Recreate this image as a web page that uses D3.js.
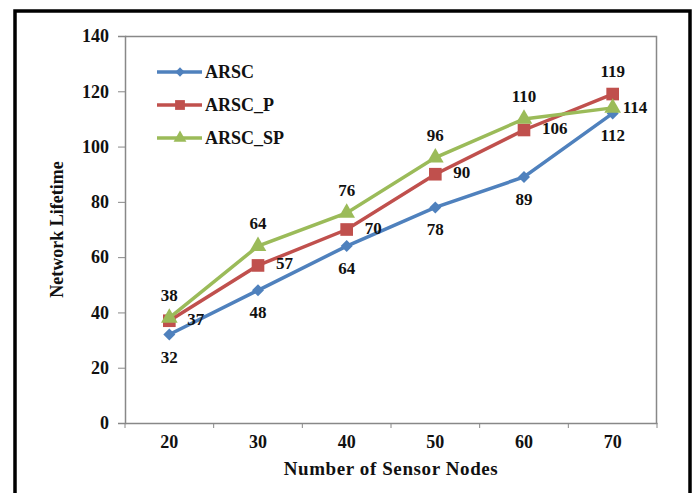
<!DOCTYPE html>
<html>
<head>
<meta charset="utf-8">
<script src="https://cdn.jsdelivr.net/npm/d3@7"></script>
<style>
  body { margin: 0; background: #fff; }
  text { font-family: "Liberation Serif", "Times New Roman", serif; font-weight: bold; fill: #111; }
</style>
</head>
<body>
<div class="canvas"></div>
<script>
// data
const nodes = [20, 30, 40, 50, 60, 70];
const arsc = [32, 48, 64, 78, 89, 112];
const arscP = [37, 57, 70, 90, 106, 119];
const arscSP = [38, 64, 76, 96, 110, 114];
const yTicks = [0, 20, 40, 60, 80, 100, 120, 140];

// where each value label sits relative to its point
const arscPlace = ["below", "below", "below", "below", "below", "below"];
const arscPPlace = ["right", "right", "right", "right", "right", "above"];
const arscSPPlace = ["above", "above", "above", "above", "above", "near"];

const width = 698;
const height = 493;
const margin = { top: 36, right: 41, bottom: 70, left: 125 };
const graphWidth = width - margin.left - margin.right;
const graphHeight = height - margin.top - margin.bottom;

const svg = d3
  .select(".canvas")
  .append("svg")
  .attr("width", width)
  .attr("height", height);

// outer frame
svg
  .append("rect")
  .attr("x", 15)
  .attr("y", 11)
  .attr("width", 675)
  .attr("height", 500)
  .attr("fill", "none")
  .attr("stroke", "#000")
  .attr("stroke-width", 3.5);

const graph = svg
  .append("g")
  .attr("transform", `translate(${margin.left}, ${margin.top})`);

// scales
const x = d3.scaleBand().domain(nodes).range([0, graphWidth]);
const y = d3.scaleLinear().domain([0, 140]).range([graphHeight, 0]);

// plot area border (top and right)
graph
  .append("path")
  .attr("d", `M0,0.5H${graphWidth - 0.5}V${graphHeight}`)
  .attr("fill", "none")
  .attr("stroke", "#888")
  .attr("stroke-width", 1.5);

// axes
const xAxisGroup = graph
  .append("g")
  .attr("transform", `translate(0, ${graphHeight})`)
  .call(d3.axisBottom(x).tickSize(0).tickPadding(12));

// tick marks between categories
xAxisGroup
  .selectAll(".sep")
  .data(d3.range(nodes.length + 1))
  .enter()
  .append("line")
  .attr("x1", (i) => i * x.step())
  .attr("x2", (i) => i * x.step())
  .attr("y1", 0)
  .attr("y2", 5)
  .attr("stroke", "#888");

const yAxisGroup = graph
  .append("g")
  .call(d3.axisLeft(y).tickValues(yTicks).tickSize(7).tickPadding(9));

graph.selectAll(".domain").attr("stroke", "#888").attr("stroke-width", 1.5);
graph.selectAll(".tick line").attr("stroke", "#888");
graph
  .selectAll(".tick text")
  .style("font-family", '"Liberation Serif", serif')
  .style("font-weight", "bold")
  .style("font-size", "18px")
  .attr("fill", "#111");

// axis titles
svg
  .append("text")
  .attr("x", margin.left + graphWidth / 2)
  .attr("y", 475)
  .attr("text-anchor", "middle")
  .style("font-size", "19px")
  .style("letter-spacing", "0.6px")
  .text("Number of Sensor Nodes");

svg
  .append("text")
  .attr("transform", `translate(63, ${margin.top + graphHeight / 2}) rotate(-90)`)
  .attr("text-anchor", "middle")
  .style("font-size", "18px")
  .text("Network Lifetime");

// series
const series = [
  { name: "ARSC", values: arsc, place: arscPlace, color: "#4F81BD", shape: d3.symbolSquare, size: 72, rot: 45 },
  { name: "ARSC_P", values: arscP, place: arscPPlace, color: "#C0504D", shape: d3.symbolSquare, size: 160, rot: 0 },
  { name: "ARSC_SP", values: arscSP, place: arscSPPlace, color: "#9BBB59", shape: d3.symbolTriangle, size: 120, rot: 0 },
];

const cx = (i) => x(nodes[i]) + x.bandwidth() / 2;

const line = d3
  .line()
  .x((d, i) => cx(i))
  .y((d) => y(d));

series.forEach((s) => {
  graph
    .append("path")
    .datum(s.values)
    .attr("fill", "none")
    .attr("stroke", s.color)
    .attr("stroke-width", 3.5)
    .attr("d", line);

  graph
    .selectAll(null)
    .data(s.values)
    .enter()
    .append("path")
    .attr("d", d3.symbol().type(s.shape).size(s.size))
    .attr("transform", (d, i) => `translate(${cx(i)}, ${y(d)}) rotate(${s.rot})`)
    .attr("fill", s.color);
});

// value labels
const offsets = {
  below: { dx: 0, dy: 28, anchor: "middle" },
  above: { dx: 0, dy: -17, anchor: "middle" },
  right: { dx: 18, dy: 4, anchor: "start" },
  near: { dx: 10, dy: 5, anchor: "start" },
};

series.forEach((s) => {
  graph
    .selectAll(null)
    .data(s.values)
    .enter()
    .append("text")
    .attr("x", (d, i) => cx(i) + offsets[s.place[i]].dx)
    .attr("y", (d, i) => y(d) + offsets[s.place[i]].dy)
    .attr("text-anchor", (d, i) => offsets[s.place[i]].anchor)
    .style("font-size", "17px")
    .text((d) => d);
});

// legend
const legend = svg
  .append("g")
  .attr("transform", "translate(157, 72)");

series.forEach((s, i) => {
  const row = legend.append("g").attr("transform", `translate(0, ${i * 33})`);
  row
    .append("line")
    .attr("x1", 0)
    .attr("x2", 45)
    .attr("stroke", s.color)
    .attr("stroke-width", 3.5);
  row
    .append("path")
    .attr("d", d3.symbol().type(s.shape).size(s.size * 0.6))
    .attr("transform", `translate(23, 0) rotate(${s.rot})`)
    .attr("fill", s.color);
  row
    .append("text")
    .attr("x", 48)
    .attr("y", 6)
    .style("font-size", "18px")
    .text(s.name);
});
</script>
</body>
</html>
